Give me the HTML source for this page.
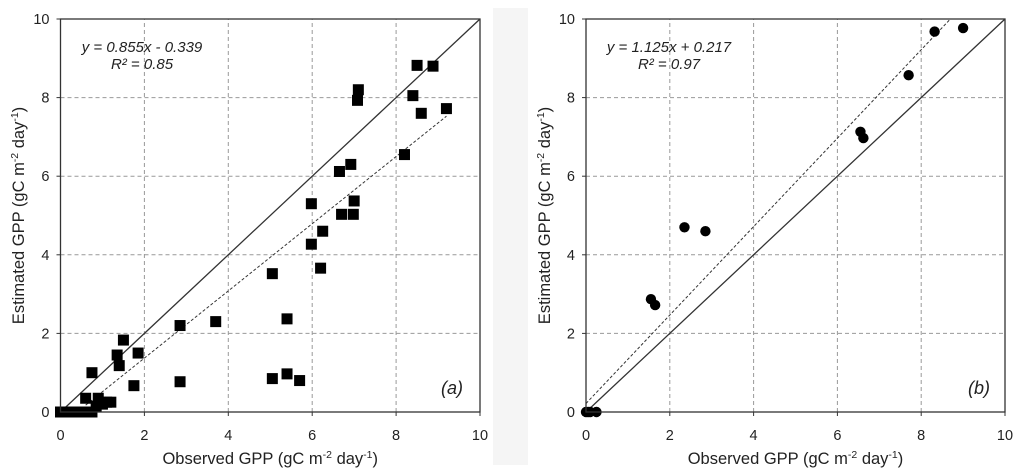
<!DOCTYPE html>
<html><head><meta charset="utf-8"><style>
html,body{margin:0;padding:0;background:#fff;}
svg{display:block;font-family:"Liberation Sans",sans-serif;}
</style></head><body>
<svg id="c" width="1024" height="473" viewBox="0 0 1024 473">
<rect x="493" y="8" width="35" height="457" fill="#f5f5f5"/>
</svg>
<script>
const ticks=[0,2,4,6,8,10];
const tickLabels=["0","2","4","6","8","10"];
const aObsX=[0,0.05,0.1,0.15,0.2,0.3,0.4,0.5,0.6,0.6,0.75,0.75,0.85,0.9,0.95,1.0,1.1,1.2,1.35,1.4,1.5,1.75,1.85,2.85,2.85,3.7,5.05,5.05,5.4,5.4,5.7,5.98,5.98,6.2,6.25,6.65,6.7,6.92,6.98,7.0,7.08,7.1,8.2,8.4,8.5,8.6,8.88,9.2];
const aEstY=[0,0,0,0,0,0,0,0,0,0.35,1.0,0,0.15,0.35,0.25,0.2,0.25,0.25,1.45,1.18,1.83,0.67,1.5,2.2,0.77,2.3,3.52,0.85,2.37,0.97,0.8,5.3,4.27,3.66,4.6,6.12,5.03,6.3,5.03,5.37,7.93,8.2,6.55,8.05,8.82,7.6,8.8,7.72];
const aFit=[0.855,-0.339];
const bObsX=[0,0.05,0.1,0.25,1.55,1.65,2.35,2.85,6.55,6.62,7.7,8.32,9.0];
const bEstY=[0,0,0,0,2.87,2.72,4.7,4.6,7.13,6.97,8.57,9.68,9.77];
const bFit=[1.125,0.217];

const NS="http://www.w3.org/2000/svg";
const svg=document.getElementById('c');
function mk(tag,at,parent){const e=document.createElementNS(NS,tag);for(const k in at)e.setAttribute(k,at[k]);(parent||svg).appendChild(e);return e;}

function panel(id,x0,x1,y0,y1,xs,ys,fit,fitFrom,fitTo,marker,eq,r2,eqX,tag,tagX,ylabX){
  const g=mk('g',{});
  
  
  const sx=v=>x0+(x1-x0)*v/10, sy=v=>y0-(y0-y1)*v/10;
  ticks.forEach((t,i)=>{
    if(t>0&&t<10){
      const gv=mk('line',{x1:sx(t),x2:sx(t),y1:y0,y2:y1,stroke:'#999','stroke-dasharray':'4,3','stroke-width':1},g);
      
      
      const gh=mk('line',{x1:x0,x2:x1,y1:sy(t),y2:sy(t),stroke:'#999','stroke-dasharray':'4,3','stroke-width':1},g);
      
      
    }
    mk('line',{x1:sx(t),x2:sx(t),y1:y0,y2:y0+4,stroke:'#333'},g);
    mk('line',{x1:x0-4,x2:x0,y1:sy(t),y2:sy(t),stroke:'#333'},g);
    const tx=mk('text',{x:sx(t),y:y0+28,'font-size':14.5,'text-anchor':'middle',fill:'#222'},g);
    tx.textContent=tickLabels[i];
    
    
    const ty=mk('text',{x:x0-11,y:sy(t)+5,'font-size':14.5,'text-anchor':'end',fill:'#222'},g);
    ty.textContent=tickLabels[i];
    
    
  });
  const oneone=mk('line',{x1:sx(0),y1:sy(0),x2:sx(10),y2:sy(10),stroke:'#333','stroke-width':1.3},g);
  
  
  const fl=mk('line',{x1:sx(fitFrom),y1:sy(fit[0]*fitFrom+fit[1]),x2:sx(fitTo),y2:sy(fit[0]*fitTo+fit[1]),stroke:'#333','stroke-width':1,'stroke-dasharray':'3,2'},g);
  
  
  xs.forEach((v,i)=>{
    let m;
    if(marker==='sq') m=mk('rect',{x:sx(v)-5.5,y:sy(ys[i])-5.5,width:11,height:11,fill:'#000'},g);
    else m=mk('circle',{cx:sx(v),cy:sy(ys[i]),r:5.2,fill:'#000'},g);
    
    
  });
  const fr=mk('rect',{x:x0,y:y1,width:x1-x0,height:y0-y1,fill:'none',stroke:'#333','stroke-width':1.3},g);
  
  
  const e1=mk('text',{x:eqX,y:52,'font-size':15,'font-style':'italic','text-anchor':'middle',fill:'#222'},g);
  e1.textContent=eq;
  
  
  const e2=mk('text',{x:eqX,y:69,'font-size':15,'font-style':'italic','text-anchor':'middle',fill:'#222'},g);
  e2.textContent=r2;
  
  
  const tg=mk('text',{x:tagX,y:394,'font-size':18,'font-style':'italic','text-anchor':'middle',fill:'#222'},g);
  tg.textContent=tag;
  
  
  const xl=mk('text',{x:(x0+x1)/2,y:464,'font-size':16.5,'text-anchor':'middle',fill:'#222'},g);
  xl.innerHTML='Observed GPP (gC m<tspan dy="-6" font-size="10.5">-2</tspan><tspan dy="6"> day</tspan><tspan dy="-6" font-size="10.5">-1</tspan><tspan dy="6">)</tspan>';
  
  
  const yl=mk('text',{x:0,y:0,'font-size':16.5,'text-anchor':'middle',fill:'#222',transform:`translate(${ylabX},${(y0+y1)/2}) rotate(-90)`},g);
  yl.innerHTML='Estimated GPP (gC m<tspan dy="-6" font-size="10.5">-2</tspan><tspan dy="6"> day</tspan><tspan dy="-6" font-size="10.5">-1</tspan><tspan dy="6">)</tspan>';
  
  
}
panel('panel-a',60.5,480,412,19,aObsX,aEstY,aFit,0.6,9.2,'sq','y = 0.855x - 0.339','R² = 0.85',142,'(a)',452,24);
panel('panel-b',586,1005,412,19,bObsX,bEstY,bFit,0,(10-bFit[1])/bFit[0],'ci','y = 1.125x + 0.217','R² = 0.97',669,'(b)',979,550);
</script>
</body></html>
